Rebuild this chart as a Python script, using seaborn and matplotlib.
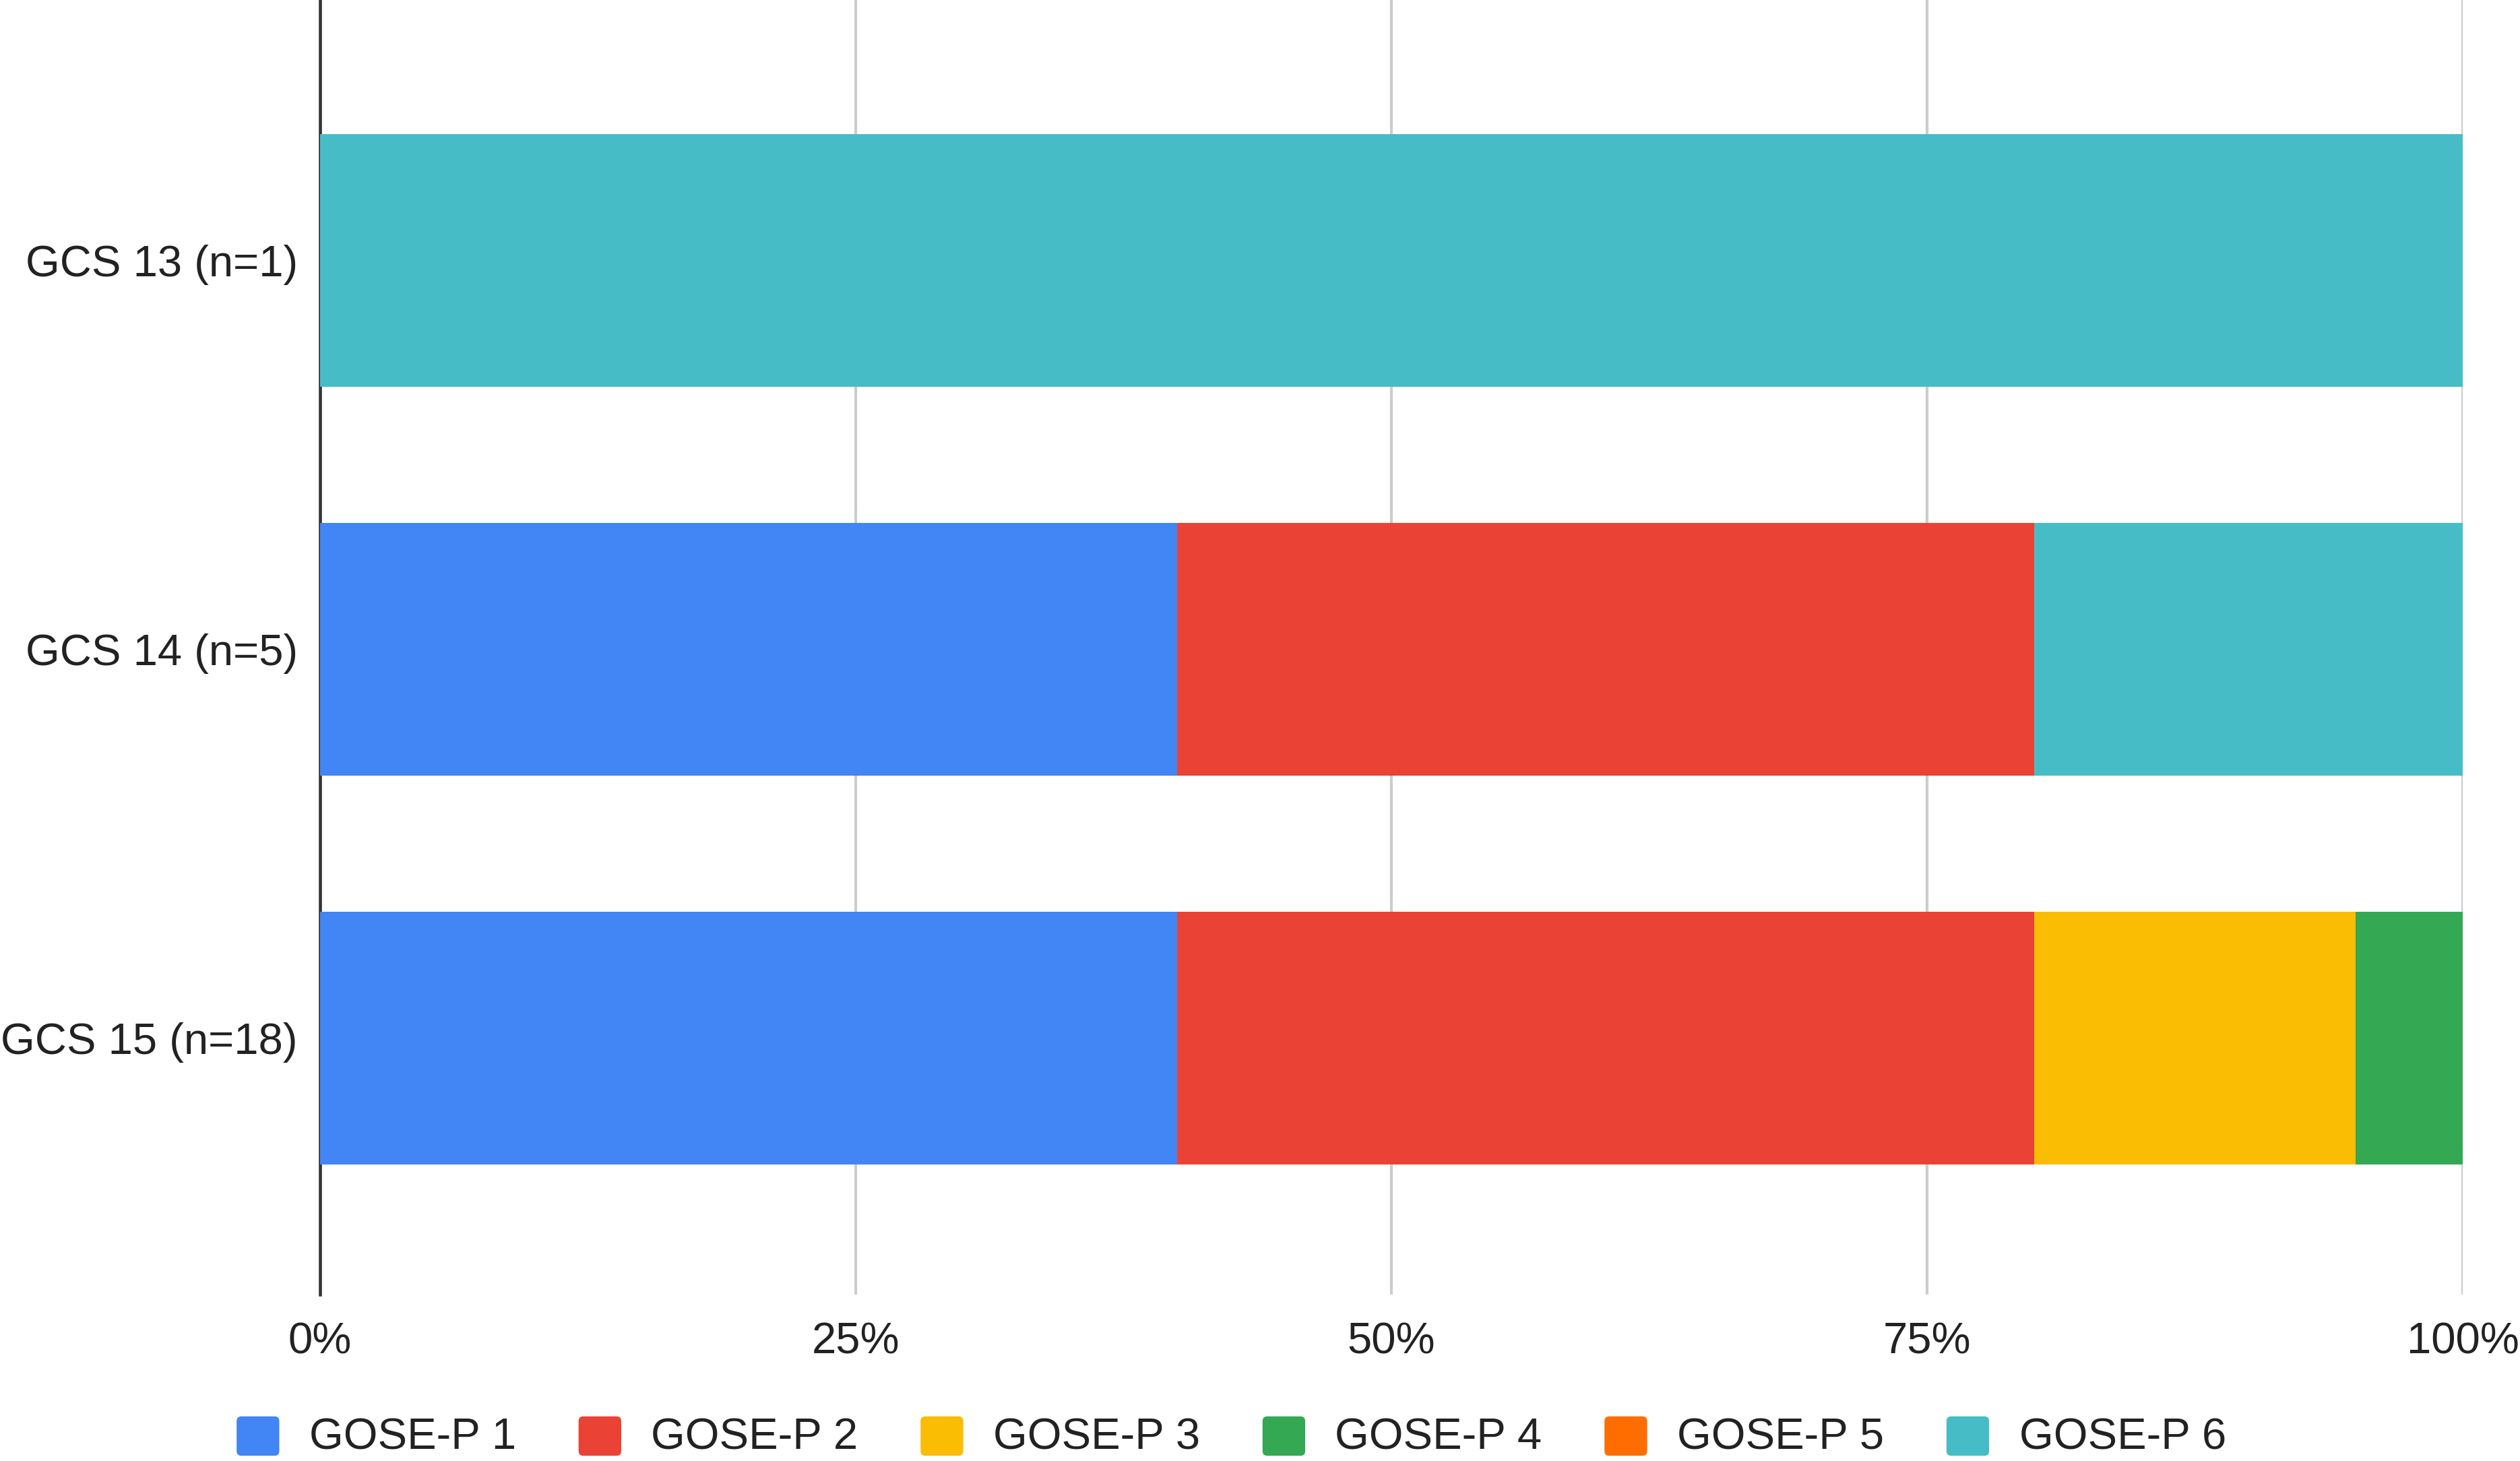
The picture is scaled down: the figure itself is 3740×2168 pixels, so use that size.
import numpy as np
import pandas as pd
import seaborn as sns
import matplotlib
matplotlib.use("Agg")
import matplotlib.pyplot as plt
from matplotlib.patches import FancyBboxPatch, Patch
from matplotlib.legend_handler import HandlerPatch

# ---- data ----
categories = ["GCS 13 (n=1)", "GCS 14 (n=5)", "GCS 15 (n=18)"]
series_names = ["GOSE-P 1", "GOSE-P 2", "GOSE-P 3", "GOSE-P 4", "GOSE-P 5", "GOSE-P 6"]
gose1 = [0, 40, 40]
gose2 = [0, 40, 40]
gose3 = [0, 0, 15]
gose4 = [0, 0, 5]
gose5 = [0, 0, 0]
gose6 = [100, 20, 0]
colors = ["#4285F4", "#EA4335", "#FBBC04", "#34A853", "#FF6D01", "#46BDC6"]
xticks = [0, 25, 50, 75, 100]
xticklabels = ["0%", "25%", "50%", "75%", "100%"]

series_vals = [gose1, gose2, gose3, gose4, gose5, gose6]

sns.set_theme(style="white")
plt.rcParams["font.family"] = ["Liberation Sans", "DejaVu Sans"]

fig = plt.figure(figsize=(37.41, 21.68), dpi=100)
ax = fig.add_axes([0.127, 0.114, 0.850, 0.886])

cum = np.cumsum(np.array(series_vals, dtype=float), axis=0)
# draw cumulative bars from largest to smallest so that they stack
for i in range(len(series_names) - 1, -1, -1):
    df = pd.DataFrame({"cat": categories, "val": cum[i]})
    sns.barplot(data=df, x="val", y="cat", orient="h", color=colors[i],
                width=0.65, saturation=1, ax=ax, zorder=3, linewidth=0)

ax.set_xlim(0, 100)
ax.set_ylim(2.66, -0.67)
ax.set_xticks(xticks)
ax.set_xticklabels(xticklabels)
ax.set_xlabel("")
ax.set_ylabel("")
ax.xaxis.grid(True, color="#cccccc", linewidth=3, zorder=0)
ax.yaxis.grid(False)
ax.set_axisbelow(True)
for s in ["top", "right", "bottom"]:
    ax.spines[s].set_visible(False)
ax.spines["left"].set_color("#333333")
ax.spines["left"].set_linewidth(3.3)
ax.spines["left"].set_zorder(2)
ax.tick_params(axis="x", length=0, pad=29, labelsize=47, labelcolor="#222222")
ax.tick_params(axis="y", length=0, pad=24, labelsize=47, labelcolor="#222222")


class RoundHandler(HandlerPatch):
    def create_artists(self, legend, orig_handle, xdescent, ydescent, width,
                       height, fontsize, trans):
        r = 0.12 * min(width, height)
        p = FancyBboxPatch((-xdescent + r, -ydescent + r - 0.05 * height),
                           width - 2 * r, height * 1.0 - 2 * r,
                           boxstyle=f"round,pad={r}",
                           facecolor=orig_handle.get_facecolor(),
                           edgecolor="none", transform=trans)
        return [p]


handles = [Patch(facecolor=c, label=n) for c, n in zip(colors, series_names)]
fig.legend(handles=handles, loc="center", bbox_to_anchor=(0.4885, 0.017),
           ncol=6, frameon=False, fontsize=47, handlelength=0.97,
           handleheight=1.0, handletextpad=0.68, columnspacing=1.42,
           labelcolor="#222222",
           handler_map={Patch: RoundHandler()})

fig.savefig("out.png", dpi=100)
